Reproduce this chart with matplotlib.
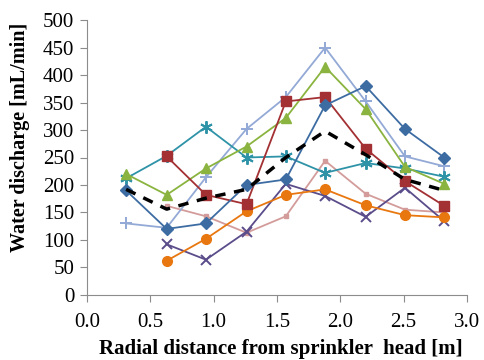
import numpy as np
import matplotlib.pyplot as plt

plt.rcParams['font.family'] = ['Liberation Serif', 'DejaVu Serif']

# radial positions of the collectors [m]
r_all = [0.31, 0.63, 0.94, 1.26, 1.57, 1.88, 2.20, 2.51, 2.82]
r_from2 = r_all[1:]

# water discharge [mL/min] for each test
q_diamond = [190, 120, 130, 200, 210, 345, 380, 302, 250]
q_square = [252, 182, 165, 352, 360, 266, 207, 162]
q_triangle = [220, 182, 230, 270, 322, 415, 338, 233, 202]
q_plus = [130, 122, 214, 302, 360, 450, 352, 252, 234]
q_star = [212, 253, 306, 250, 252, 222, 240, 230, 215]
q_circle = [62, 102, 152, 182, 192, 163, 145, 141]
q_cross = [92, 64, 115, 202, 180, 142, 195, 134]
q_pink = [162, 143, 113, 143, 244, 184, 155, 150]
q_mean = [192, 156, 176, 192, 250, 298, 255, 210, 190]

fig = plt.figure(figsize=(4.85, 3.6), dpi=100)
ax = fig.add_axes([0.179, 0.181, 0.784, 0.763])

lw = 1.3
ax.plot(r_from2, q_pink, color='#D39C9B', marker='s', ms=3, lw=lw)
ax.plot(r_all, q_plus, color='#93A9D6', marker='+', ms=9, mew=1.4, lw=lw)
ax.plot(r_all, q_star, color='#2F93A8', marker=(6, 2, 0), ms=9, mew=1.4, lw=lw)
ax.plot(r_from2, q_cross, color='#5B4C8A', marker='x', ms=7, mew=1.4, lw=lw)
ax.plot(r_from2, q_circle, color='#E8770F', marker='o', ms=7, lw=lw)
ax.plot(r_all, q_triangle, color='#8AB43F', marker='^', ms=7, lw=lw)
ax.plot(r_from2, q_square, color='#A33033', marker='s', ms=7, lw=lw)
ax.plot(r_all, q_diamond, color='#3D6CA3', marker='D', ms=6, lw=lw)
ax.plot(r_all, q_mean, color='black', ls=(0, (3, 2.5)), lw=2.5)

ax.set_xlim(0, 3.0)
ax.set_ylim(0, 500)
ax.set_xticks(np.arange(0, 3.01, 0.5))
ax.set_yticks(np.arange(0, 501, 50))
ax.set_xticklabels([f'{v:.1f}' for v in np.arange(0, 3.01, 0.5)])

for s in ['top', 'right']:
    ax.spines[s].set_visible(False)
for s in ['left', 'bottom']:
    ax.spines[s].set_color('#8C8C8C')
ax.tick_params(direction='out', length=5, color='#8C8C8C', labelsize=15)
ax.tick_params(axis='x', pad=8)
ax.tick_params(axis='y', pad=4)

ax.set_xlabel('Radial distance from sprinkler  head [m]', fontsize=15, fontweight='bold')
ax.set_ylabel('Water discharge [mL/min]', fontsize=14.5, fontweight='bold')
ax.xaxis.set_label_coords(0.51, -0.16)
ax.yaxis.set_label_coords(-0.15, 0.575)

fig.savefig('out.png', dpi=100)
